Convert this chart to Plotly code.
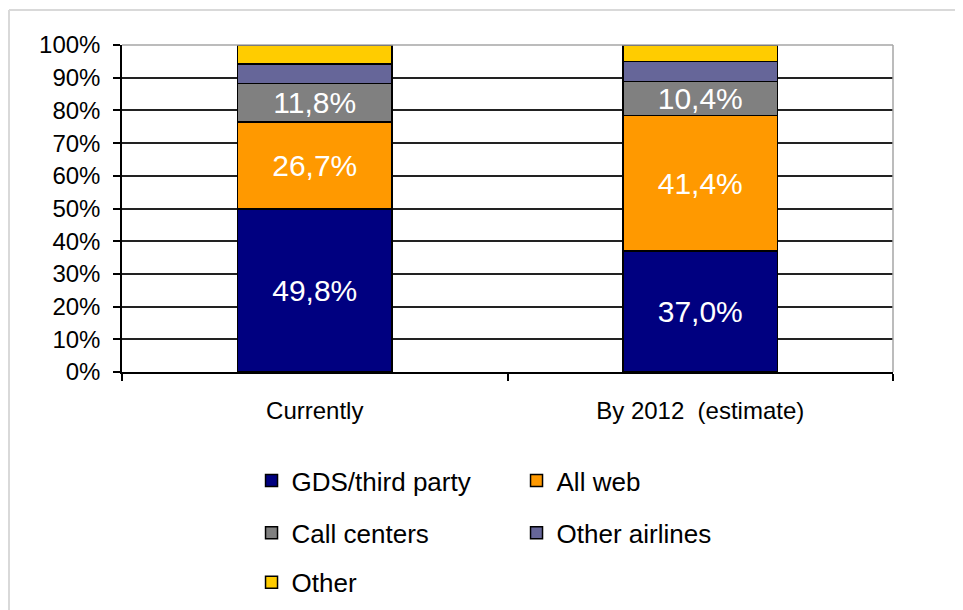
import plotly.graph_objects as go

categories = ["Currently", "By 2012\u00a0 (estimate)"]
series_names = ["GDS/third party", "All web", "Call centers", "Other airlines", "Other"]
gds = [49.8, 37.0]
all_web = [26.7, 41.4]
call_centers = [11.8, 10.4]
other_airlines = [5.9, 6.2]
other = [5.8, 5.0]
labelled = [True, True, True, False, False]
y_ticks = [0, 10, 20, 30, 40, 50, 60, 70, 80, 90, 100]
y_tick_labels = [f"{v}%" for v in y_ticks]

colors = ["#000080", "#FF9900", "#808080", "#666699", "#FFCC00"]
legend_ids = ["legend", "legend", "legend2", "legend2", "legend3"]
FONT = "Liberation Sans, Arial, sans-serif"

fig = go.Figure()
for name, vals, col, lab, lg in zip(series_names,
                                    [gds, all_web, call_centers, other_airlines, other],
                                    colors, labelled, legend_ids):
    txt = [f"{v:.1f}%".replace(".", ",") for v in vals] if lab else None
    fig.add_trace(go.Bar(
        x=categories, y=vals, name=name,
        marker=dict(color=col, line=dict(color="black", width=1.5)),
        text=txt, textposition="inside" if lab else "none",
        insidetextanchor="middle", textangle=0, constraintext="none",
        textfont=dict(color="white", size=30, family=FONT),
        legend=lg,
    ))

legend_common = dict(orientation="h", entrywidth=220, entrywidthmode="pixels",
                     font=dict(size=26, family=FONT, color="black"),
                     x=0.168, xanchor="left", yanchor="middle",
                     bgcolor="rgba(0,0,0,0)", traceorder="normal")

fig.update_layout(
    width=963, height=610,
    margin=dict(l=114, r=78, t=37, b=242),
    barmode="stack", bargap=0.6,
    plot_bgcolor="white", paper_bgcolor="white",
    font=dict(family=FONT, color="black"),
    legend=dict(y=-0.332, **legend_common),
    legend2=dict(y=-0.492, **legend_common),
    legend3=dict(y=-0.643, **legend_common),
    xaxis=dict(showline=True, linecolor="black", linewidth=1.5,
               ticks="outside", tickson="boundaries", ticklen=7, tickwidth=1.5,
               tickcolor="black", tickfont=dict(size=24, family=FONT, color="black"),
               ticklabelstandoff=16, showgrid=False),
    yaxis=dict(range=[0, 100], tickmode="array", tickvals=y_ticks, ticktext=y_tick_labels,
               showline=True, linecolor="black", linewidth=1.5,
               ticks="outside", ticklen=7, tickwidth=1.5, tickcolor="black",
               tickfont=dict(size=24, family=FONT, color="black"),
               ticklabelstandoff=8,
               showgrid=True, gridcolor="#222222", gridwidth=1.5, zeroline=False),
    showlegend=True,
)

# plot-area frame (grey top and right edges) and outer picture frame
fig.add_shape(type="line", xref="paper", yref="paper", x0=0, x1=1, y0=1, y1=1,
              line=dict(color="#a6a6a6", width=1.5), layer="above")
fig.add_shape(type="line", xref="paper", yref="paper", x0=1, x1=1, y0=0, y1=1,
              line=dict(color="#a6a6a6", width=1.5), layer="above")
fig.add_shape(type="line", xref="paper", yref="paper", xsizemode="pixel", ysizemode="pixel",
              xanchor=0, yanchor=1, x0=-113, x1=900, y0=35, y1=35,
              line=dict(color="#d9d9d9", width=2))
fig.add_shape(type="line", xref="paper", yref="paper", xsizemode="pixel", ysizemode="pixel",
              xanchor=0, yanchor=1, x0=-113, x1=-113, y0=35, y1=-600,
              line=dict(color="#d9d9d9", width=2))

fig.write_html("out.html")
